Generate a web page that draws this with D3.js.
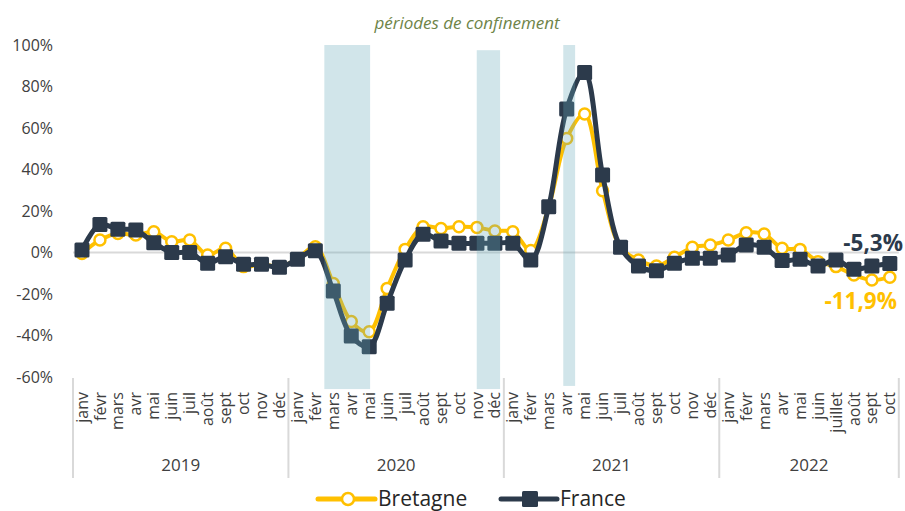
<!DOCTYPE html>
<html><head><meta charset="utf-8">
<script src="https://cdn.jsdelivr.net/npm/d3@7"></script>
<style>
html,body{margin:0;padding:0;background:#fff;}
svg{display:block;font-family:"Open Sans",sans-serif;}
</style></head>
<body><svg id="c" width="905" height="511"></svg>
<script>
const years = ["2019","2020","2021","2022"];
const monthLabels = [
 "janv","févr","mars","avr","mai","juin","juil","août","sept","oct","nov","déc",
 "janv","févr","mars","avr","mai","juin","juil","août","sept","oct","nov","déc",
 "janv","févr","mars","avr","mai","juin","juil","août","sept","oct","nov","déc",
 "janv","févr","mars","avr","mai","juin","juillet","août","sept","oct"];
const monthsPerYear = [12,12,12,10];
const france = [1.2,13.5,11.2,10.8,4.7,0,0,-5.2,-2,-5.7,-5.7,-7.1,
 -3.3,0.9,-18.6,-40.2,-45.4,-24.5,-3.6,8.8,5.5,4.4,4.4,4.4,
 4.4,-3.6,22.1,69.2,86.8,37.3,2.5,-6.5,-8.8,-5.2,-2.8,-2.8,
 -1.2,3.6,2.5,-3.9,-3.3,-6.5,-3.6,-8.1,-6.5,-5.3];
const bretagne = [-0.5,6,9.2,8.4,10,5.2,6,-1.2,2,-6.8,-5.5,-7,
 -3,2.8,-14.9,-33.3,-38.2,-17.3,1.5,12.4,11.6,12.4,12.1,10.4,
 10,1,22,55,66.7,29.8,2.5,-3.6,-6.5,-2.3,2.5,3.6,
 6,9.5,8.9,2,1.5,-4.4,-6.8,-10.8,-13.3,-11.9];
const yTicks = [100,80,60,40,20,0,-20,-40,-60];
// lockdown periods, in fractional month index (0 = start of janv 2019)
const lockStart = [14.0, 22.49, 27.31];
const lockEnd = [16.55, 23.79, 27.97];
const lockTop = [100, 97.5, 100];
const lockBottom = [-65.8, -65.8, -64.3];
const lastLabels = ["-5,3%","-11,9%"];

const svg = d3.select("#c");
const N = monthLabels.length;
const xl = d3.scaleLinear().domain([0,N]).range([73,898.8]);
const xc = i => xl(i+0.5);
const y = d3.scaleLinear().domain([-60,100]).range([377,45]);
const cDark = "#2c3a4b", cYel = "#ffc000", cText = "#404040";

// y tick labels
svg.append("g").selectAll("text").data(yTicks).join("text")
 .attr("x",53).attr("y",d=>y(d)).attr("dy","0.35em").attr("text-anchor","end")
 .attr("font-size",16).attr("fill",cText).text(d=>d+"%");

// zero line
svg.append("line").attr("x1",xl(0)).attr("x2",xl(N)).attr("y1",y(0)).attr("y2",y(0))
 .attr("stroke","#d9d9d9").attr("stroke-width",2);

// category axis separators
let b=0; const bounds=[0];
monthsPerYear.forEach(m=>{b+=m;bounds.push(b);});
svg.append("g").selectAll("line").data(bounds).join("line")
 .attr("x1",d=>xl(d)).attr("x2",d=>xl(d)).attr("y1",378).attr("y2",478)
 .attr("stroke","#d9d9d9").attr("stroke-width",2);

// month labels
svg.append("g").selectAll("text").data(monthLabels).join("text")
 .attr("transform",(d,i)=>`translate(${xc(i)},392) rotate(-90)`)
 .attr("text-anchor","end").attr("dy","0.35em")
 .attr("font-size",16).attr("fill",cText).text(d=>d);

// year labels
svg.append("g").selectAll("text").data(years).join("text")
 .attr("x",(d,i)=>(xl(bounds[i])+xl(bounds[i+1]))/2).attr("y",465).attr("dy","0.35em")
 .attr("text-anchor","middle").attr("font-size",17).attr("fill",cText).text(d=>d);

// lines
const line = d3.line().x((d,i)=>xc(i)).y(d=>y(d)).curve(d3.curveCatmullRom.alpha(0.5));
svg.append("path").attr("d",line(bretagne)).attr("fill","none").attr("stroke",cYel).attr("stroke-width",4);
svg.append("g").selectAll("circle").data(bretagne).join("circle")
 .attr("cx",(d,i)=>xc(i)).attr("cy",d=>y(d)).attr("r",5.5)
 .attr("fill","#fff").attr("stroke",cYel).attr("stroke-width",2.5);
svg.append("path").attr("d",line(france)).attr("fill","none").attr("stroke",cDark).attr("stroke-width",5);
svg.append("g").selectAll("rect").data(france).join("rect")
 .attr("x",(d,i)=>xc(i)-7.5).attr("y",d=>y(d)-7.5).attr("width",15).attr("height",15).attr("rx",1.5)
 .attr("fill",cDark);

// lockdown shading (semi-transparent overlay)
svg.append("g").selectAll("rect").data(lockStart).join("rect")
 .attr("x",(d,i)=>xl(d)).attr("width",(d,i)=>xl(lockEnd[i])-xl(d))
 .attr("y",(d,i)=>y(lockTop[i])).attr("height",(d,i)=>y(lockBottom[i])-y(lockTop[i]))
 .attr("fill","rgb(102,170,187)").attr("fill-opacity",0.3);

svg.append("text").attr("x",467).attr("y",29).attr("text-anchor","middle")
 .attr("font-size",17).attr("font-style","italic").attr("fill","#6e8448")
 .text("périodes de confinement");

// end labels
svg.append("text").attr("x",903).attr("y",251).attr("text-anchor","end")
 .attr("font-size",22.5).attr("font-weight","bold").attr("fill",cDark).text(lastLabels[0]);
svg.append("text").attr("x",897).attr("y",309).attr("text-anchor","end")
 .attr("font-size",22.5).attr("font-weight","bold").attr("fill",cYel).text(lastLabels[1]);

// legend
const lg = svg.append("g");
lg.append("line").attr("x1",318).attr("x2",375).attr("y1",499).attr("y2",499).attr("stroke",cYel).attr("stroke-width",5).attr("stroke-linecap","round");
lg.append("circle").attr("cx",348).attr("cy",499).attr("r",6).attr("fill","#fff").attr("stroke",cYel).attr("stroke-width",2.5);
lg.append("text").attr("x",378).attr("y",505.5).attr("font-size",21).attr("fill","#262626").text("Bretagne");
lg.append("line").attr("x1",501).attr("x2",557).attr("y1",499).attr("y2",499).attr("stroke",cDark).attr("stroke-width",5).attr("stroke-linecap","round");
lg.append("rect").attr("x",522).attr("y",491).attr("width",16).attr("height",16).attr("rx",1.5).attr("fill",cDark);
lg.append("text").attr("x",560).attr("y",505.5).attr("font-size",21).attr("fill","#262626").text("France");
</script></body></html>
